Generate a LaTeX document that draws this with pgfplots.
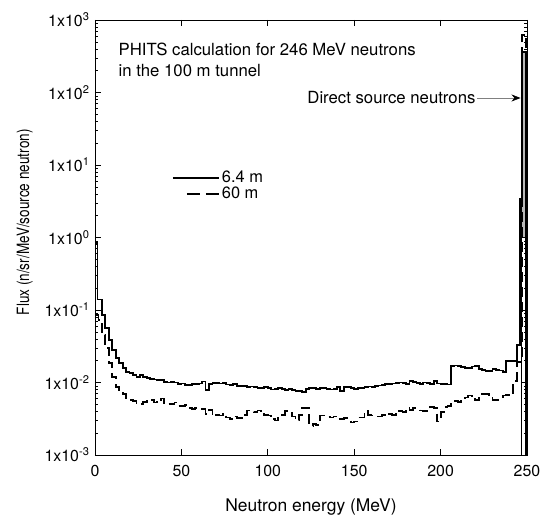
\documentclass[border=0pt]{standalone}
\usepackage{fontspec}
\setmainfont{TeX Gyre Heros}
\usepackage{pgfplots}
\pgfplotsset{compat=1.18}
\usetikzlibrary{arrows.meta}
\pgfplotsset{
  solidleg/.style={legend image code/.code={\draw[##1] (0bp,0bp) -- (46bp,0bp);}},
  dashleg/.style={legend image code/.code={\draw[##1, dash pattern=on 13bp off 6bp] (14bp,0bp) -- (46bp,0bp);}},
}

\begin{document}
\fontsize{16}{19}\selectfont
\begin{tikzpicture}
\begin{axis}[
    scale only axis,
    width=432bp, height=435bp,
    xmin=0, xmax=250,
    ymode=log, ymin=1e-3, ymax=1e3,
    xtick={0,50,100,150,200,250},
    ytick={1e-3,1e-2,1e-1,1,10,100,1000},
    yticklabels={1x10\textsuperscript{-3},1x10\textsuperscript{-2},1x10\textsuperscript{-1},
                 1x10\textsuperscript{0},1x10\textsuperscript{1},1x10\textsuperscript{2},1x10\textsuperscript{3}},
    minor ytick={2e-3,3e-3,4e-3,5e-3,6e-3,7e-3,8e-3,9e-3,
                 2e-2,3e-2,4e-2,5e-2,6e-2,7e-2,8e-2,9e-2,
                 0.2,0.3,0.4,0.5,0.6,0.7,0.8,0.9,
                 2,3,4,5,6,7,8,9,
                 20,30,40,50,60,70,80,90,
                 200,300,400,500,600,700,800,900},
    /pgf/number format/assume math mode=true,
    major tick length=6bp, minor tick length=3bp,
    tick style={black, line width=0.6bp},
    axis line style={line width=0.8bp},
    xticklabel style={yshift=-5bp},
    xlabel={Neutron energy (MeV)},
    ylabel={Flux (n/sr/MeV/source neutron)},
    xlabel style={yshift=-11bp, font=\fontsize{17.5}{20}\selectfont},
    ylabel style={font=\fontsize{17}{20}\selectfont, xscale=0.8,
        at={(ticklabel cs:0.535)}, yshift=1bp},
    legend style={at={(rel axis cs:0.178,0.658)}, anchor=north west,
        draw=none, fill=none, inner sep=0pt, row sep=-2bp,
        font=\fontsize{16.5}{19}\selectfont,
        legend cell align=left},
]
\coordinate (sw) at (rel axis cs:0,0);
\coordinate (ne) at (rel axis cs:1,1);

% direct source peak (gray bar)
\addplot[forget plot, fill=gray!55, draw=black, line width=0.8bp] coordinates {
  (247,1e-3) (247,360) (249.5,360) (249.5,1e-3)
} \closedcycle;

% 6.4 m
\addplot[black, line width=1.8bp, const plot, solidleg] coordinates {
  (0,0.83) (1.5,0.14) (4,0.085) (6,0.056) (8,0.039) (10,0.028) (12,0.022) (14,0.0185)
  (16,0.0158) (18,0.014) (20,0.0135) (22,0.0127) (24,0.0120) (26,0.0127) (28,0.0120)
  (30,0.0116) (32,0.0112) (34,0.0110) (36,0.0108) (38,0.0108) (40,0.0102) (42,0.0100)
  (44,0.0101) (46,0.0100) (48,0.0096) (50,0.0097) (52,0.0093) (54,0.0092) (56,0.0096)
  (58,0.0095) (60,0.0097) (62,0.0103) (64,0.0079) (66,0.0096) (68,0.0098) (70,0.0099)
  (72,0.0097) (74,0.0098) (76,0.0094) (78,0.0093) (80,0.0095) (82,0.0090) (84,0.0089)
  (86,0.0090) (88,0.0087) (90,0.0088) (92,0.0087) (94,0.0085) (96,0.0084) (98,0.0086)
  (100,0.0085) (102,0.0080) (104,0.0082) (106,0.0085) (108,0.0082) (110,0.0079)
  (112,0.0082) (114,0.0079) (116,0.0077) (118,0.0076) (120,0.0074) (122,0.0082)
  (124,0.0083) (126,0.0084) (128,0.0081) (130,0.0083) (132,0.0085) (134,0.0081)
  (136,0.0080) (138,0.0082) (140,0.0087) (142,0.0076) (144,0.0086) (146,0.0087)
  (148,0.0083) (150,0.0082) (152,0.0085) (154,0.0084) (156,0.0086) (158,0.0088)
  (160,0.0087) (162,0.0089) (164,0.0091) (166,0.0092) (168,0.0096) (170,0.0095)
  (172,0.0097) (174,0.0099) (176,0.0100) (178,0.0098) (180,0.0096) (182,0.0104)
  (184,0.0102) (186,0.0099) (188,0.0096) (190,0.0100) (192,0.0098) (194,0.0095)
  (196,0.0104) (198,0.0097) (200,0.0095) (202,0.0096) (204,0.0094) (206,0.0171)
  (208,0.0172) (210,0.0168) (212,0.0162) (214,0.0160) (216,0.0157) (218,0.0166)
  (220,0.0168) (222,0.0152) (224,0.0147) (226,0.0143) (228,0.0145) (230,0.0152)
  (232,0.0148) (234,0.0146) (236,0.0138) (238,0.0196) (240,0.0196) (242,0.0198)
  (244,0.0326) (246,3.4) (247,360) (249.5,360) (249.5,1e-3)
};
\addlegendentry{6.4 m}

% 60 m
\addplot[black, line width=1.8bp, const plot, dash pattern=on 10bp off 5bp, dashleg]
  coordinates {
  (0,0.085) (2,0.072) (4,0.045) (6,0.030) (8,0.0185) (10,0.012) (12,0.0087) (14,0.0074)
  (16,0.0070) (18,0.0061) (20,0.0058) (22,0.0056) (24,0.0052) (26,0.0050) (28,0.0054)
  (30,0.0055) (32,0.0058) (34,0.0053) (36,0.0058) (38,0.0060) (40,0.0052) (42,0.0050)
  (44,0.0051) (46,0.0053) (48,0.0048) (50,0.0047) (52,0.0049) (54,0.0045) (56,0.0043)
  (58,0.0044) (60,0.0043) (62,0.0043) (64,0.0037) (66,0.0042) (68,0.0035) (70,0.0036)
  (72,0.0035) (74,0.0037) (76,0.0033) (78,0.0031) (80,0.0034) (82,0.0032) (84,0.0032)
  (86,0.0036) (88,0.0041) (90,0.0040) (92,0.0039) (94,0.0041) (96,0.0040) (98,0.0036)
  (100,0.0035) (102,0.0031) (104,0.0030) (106,0.0034) (108,0.0036) (110,0.0040)
  (112,0.0040) (114,0.0034) (116,0.0030) (118,0.0036) (120,0.0045) (122,0.0044)
  (124,0.0025) (126,0.0027) (128,0.0026) (130,0.0035) (132,0.0035) (134,0.0034)
  (136,0.0033) (138,0.0034) (140,0.0031) (142,0.0031) (144,0.0032) (146,0.0030)
  (148,0.0028) (150,0.0029) (152,0.0033) (154,0.0033) (156,0.0040) (158,0.0036)
  (160,0.0035) (162,0.0034) (164,0.0034) (166,0.0036) (168,0.0035) (170,0.0037)
  (172,0.0036) (174,0.0038) (176,0.0040) (178,0.0039) (180,0.0044) (182,0.0042)
  (184,0.0044) (186,0.0043) (188,0.0041) (190,0.0040) (192,0.0042) (194,0.0046)
  (196,0.0045) (198,0.0029) (200,0.0039) (202,0.0046) (204,0.0048) (206,0.0055)
  (208,0.0055) (210,0.0054) (212,0.0060) (214,0.0062) (216,0.0066) (218,0.0060)
  (220,0.0057) (222,0.0062) (224,0.0070) (226,0.0070) (228,0.0068) (230,0.0057)
  (232,0.0058) (234,0.0062) (236,0.0066) (238,0.0067) (240,0.0068) (242,0.0106)
  (244,0.019) (247,620) (249.5,620) (249.5,1e-3)
};
\addlegendentry{60 m}

\node[anchor=base west, font=\fontsize{16.8}{20}\selectfont] at (rel axis cs:0.042,0.9195) {PHITS calculation for 246 MeV neutrons};
\node[anchor=base west, font=\fontsize{16.8}{20}\selectfont] at (rel axis cs:0.042,0.869) {in the 100 m tunnel};
\node[anchor=base west, font=\fontsize{16.8}{20}\selectfont] at (rel axis cs:0.479,0.809) {Direct source neutrons};
\draw[gray, line width=0.6bp, -{Stealth[black, length=9bp, width=7bp]}]
  (rel axis cs:0.885,0.8207) -- (rel axis cs:0.985,0.8207);
\end{axis}
\pgfresetboundingbox
\path ([xshift=-95bp,yshift=-60bp]sw) rectangle ([xshift=17bp,yshift=20bp]ne);
\end{tikzpicture}
\end{document}
